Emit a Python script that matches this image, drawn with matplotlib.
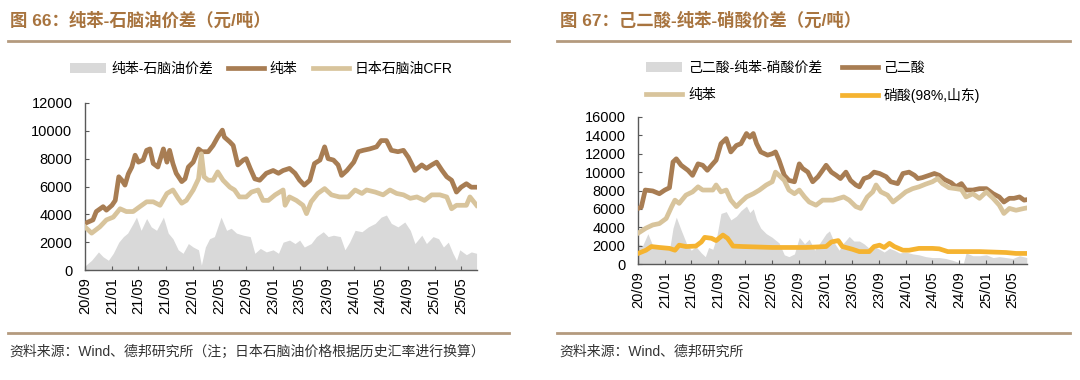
import matplotlib
matplotlib.use("Agg")
import matplotlib.pyplot as plt
import matplotlib.dates as mdates
from matplotlib.lines import Line2D
from matplotlib.patches import Patch
import pandas as pd

plt.rcParams['font.family'] = ['Liberation Sans', 'Noto Sans CJK SC', 'DejaVu Sans']

# ---------------- left chart: 纯苯-石脑油价差 (元/吨) ----------------
benzene_l = [
    ("2020-09-01", 3350), ("2020-10-07", 3600), ("2020-10-22", 4200), ("2020-11-22", 4550),
    ("2020-12-07", 4300), ("2021-01-01", 4650), ("2021-01-16", 5000), ("2021-02-01", 6700),
    ("2021-02-15", 6450), ("2021-03-01", 6100), ("2021-03-16", 6900), ("2021-04-01", 7400),
    ("2021-04-16", 8250), ("2021-05-01", 7750), ("2021-05-22", 7900), ("2021-06-07", 8600),
    ("2021-06-22", 8700), ("2021-07-07", 7650), ("2021-07-28", 7400), ("2021-08-22", 8700),
    ("2021-09-07", 7750), ("2021-09-19", 8600), ("2021-10-04", 7650), ("2021-10-19", 6950),
    ("2021-11-13", 6350), ("2021-11-28", 6550), ("2021-12-13", 7400), ("2022-01-04", 7750),
    ("2022-01-28", 8700), ("2022-02-13", 8500), ("2022-03-13", 8500), ("2022-04-04", 8950),
    ("2022-04-25", 9550), ("2022-05-16", 10050), ("2022-05-25", 9550), ("2022-06-19", 9200),
    ("2022-07-04", 8950), ("2022-07-25", 7550), ("2022-08-19", 7900), ("2022-09-01", 8000),
    ("2022-09-19", 7300), ("2022-10-10", 6550), ("2022-11-01", 6450), ("2022-12-01", 6950),
    ("2023-01-01", 7150), ("2023-01-25", 6950), ("2023-02-15", 7150), ("2023-03-16", 7300),
    ("2023-04-10", 6950), ("2023-05-01", 6450), ("2023-05-22", 6100), ("2023-06-16", 6450),
    ("2023-07-07", 7650), ("2023-08-01", 7900), ("2023-08-22", 8850), ("2023-09-07", 8000),
    ("2023-10-01", 7900), ("2023-10-22", 7550), ("2023-11-07", 6800), ("2023-12-01", 7150),
    ("2024-01-01", 7750), ("2024-01-22", 8500), ("2024-02-13", 8600), ("2024-03-13", 8700),
    ("2024-04-13", 8850), ("2024-05-04", 9300), ("2024-05-28", 9300), ("2024-06-19", 8600),
    ("2024-07-19", 8500), ("2024-08-13", 8600), ("2024-09-04", 8100), ("2024-10-04", 7150),
    ("2024-11-04", 7550), ("2024-11-25", 7300), ("2024-12-19", 7550), ("2025-01-10", 7750),
    ("2025-02-04", 7150), ("2025-02-25", 6700), ("2025-03-19", 6450), ("2025-04-10", 5600),
    ("2025-05-01", 5950), ("2025-05-25", 6200), ("2025-06-16", 5950), ("2025-07-10", 5950),
]

naphtha = [
    ("2020-09-01", 3100), ("2020-10-01", 2650), ("2020-11-07", 3100), ("2020-12-07", 3600),
    ("2021-01-07", 3800), ("2021-02-07", 4400), ("2021-03-07", 4200), ("2021-04-07", 4200),
    ("2021-05-07", 4550), ("2021-06-07", 4900), ("2021-07-07", 4900), ("2021-08-07", 4650),
    ("2021-09-07", 5500), ("2021-10-04", 5750), ("2021-10-28", 5150), ("2021-11-13", 4800),
    ("2021-12-04", 5000), ("2022-01-04", 5750), ("2022-01-28", 6550), ("2022-02-10", 8350),
    ("2022-02-22", 6700), ("2022-03-13", 6450), ("2022-04-04", 6450), ("2022-04-25", 7050),
    ("2022-05-19", 6450), ("2022-06-19", 5950), ("2022-07-10", 5750), ("2022-08-01", 5250),
    ("2022-09-01", 5250), ("2022-09-25", 5600), ("2022-10-25", 5750), ("2022-11-16", 5000),
    ("2022-12-10", 5000), ("2023-01-10", 5400), ("2023-02-15", 5750), ("2023-02-24", 4650),
    ("2023-03-16", 5250), ("2023-04-16", 5000), ("2023-05-16", 4650), ("2023-06-01", 4050),
    ("2023-06-22", 4900), ("2023-07-22", 5500), ("2023-08-22", 5850), ("2023-09-22", 5400),
    ("2023-10-28", 5250), ("2023-12-07", 5250), ("2024-01-07", 5750), ("2024-02-07", 5500),
    ("2024-02-28", 5750), ("2024-04-07", 5600), ("2024-05-13", 5400), ("2024-06-13", 5750),
    ("2024-07-13", 5500), ("2024-08-13", 5400), ("2024-09-13", 5150), ("2024-10-13", 5250),
    ("2024-11-16", 5000), ("2024-12-19", 5400), ("2025-01-25", 5400), ("2025-02-25", 5250),
    ("2025-03-19", 4400), ("2025-04-10", 4650), ("2025-05-01", 4650), ("2025-05-25", 4650),
    ("2025-06-10", 5250), ("2025-07-10", 4650),
]

spread_l = [
    ("2020-09-01", 300), ("2020-10-01", 700), ("2020-11-01", 1300), ("2020-11-22", 950),
    ("2020-12-16", 700), ("2021-01-07", 1200), ("2021-02-01", 2000), ("2021-02-22", 2400),
    ("2021-03-13", 2650), ("2021-04-07", 3350), ("2021-04-22", 3800), ("2021-05-13", 2850),
    ("2021-06-07", 3700), ("2021-06-28", 3100), ("2021-07-22", 2850), ("2021-08-22", 3800),
    ("2021-09-13", 2650), ("2021-10-04", 2250), ("2021-10-28", 1450), ("2021-11-19", 1200),
    ("2021-12-13", 1900), ("2022-01-04", 1650), ("2022-01-28", 1450), ("2022-02-10", 350),
    ("2022-02-28", 1650), ("2022-03-19", 2250), ("2022-04-10", 2400), ("2022-05-10", 3800),
    ("2022-06-04", 2850), ("2022-06-25", 3000), ("2022-07-19", 2650), ("2022-08-19", 2500),
    ("2022-09-19", 2400), ("2022-10-10", 1200), ("2022-11-04", 1550), ("2022-12-01", 1300),
    ("2023-01-01", 1450), ("2023-01-25", 1200), ("2023-02-15", 2000), ("2023-03-16", 2150),
    ("2023-04-10", 1900), ("2023-05-01", 2150), ("2023-05-22", 1650), ("2023-06-22", 1900),
    ("2023-07-16", 2400), ("2023-08-16", 2750), ("2023-09-07", 2400), ("2023-10-01", 2500),
    ("2023-11-01", 2400), ("2023-11-22", 1450), ("2023-12-13", 2000), ("2024-01-07", 2850),
    ("2024-02-07", 2750), ("2024-03-07", 3100), ("2024-04-07", 3350), ("2024-05-04", 3800),
    ("2024-05-28", 3950), ("2024-06-19", 3350), ("2024-07-19", 3100), ("2024-08-19", 3450),
    ("2024-09-13", 2850), ("2024-10-04", 1900), ("2024-11-04", 2500), ("2024-11-25", 1900),
    ("2024-12-25", 2400), ("2025-01-19", 2250), ("2025-02-10", 1650), ("2025-03-04", 2000),
    ("2025-03-25", 1200), ("2025-04-10", 700), ("2025-04-25", 1450), ("2025-05-25", 1100),
    ("2025-06-16", 1300), ("2025-07-10", 1200),
]

# ---------------- right chart: 己二酸-纯苯-硝酸价差 (元/吨) ----------------
adipic = [
    ("2020-09-01", 6050), ("2020-09-16", 6200), ("2020-10-04", 8050), ("2020-11-07", 7950),
    ("2020-12-07", 7650), ("2021-01-01", 8050), ("2021-01-22", 8300), ("2021-02-07", 11100),
    ("2021-02-22", 11450), ("2021-03-16", 10750), ("2021-04-16", 10200), ("2021-05-07", 9650),
    ("2021-06-01", 10900), ("2021-06-22", 10750), ("2021-07-13", 10200), ("2021-08-07", 10900),
    ("2021-08-22", 11300), ("2021-09-13", 13100), ("2021-10-07", 13650), ("2021-10-28", 12200),
    ("2021-11-22", 12900), ("2021-12-13", 13100), ("2022-01-07", 14200), ("2022-01-22", 13800),
    ("2022-02-07", 14200), ("2022-02-22", 13100), ("2022-03-13", 12200), ("2022-04-13", 11850),
    ("2022-05-04", 12000), ("2022-05-19", 12200), ("2022-06-04", 11300), ("2022-06-28", 9650),
    ("2022-07-19", 9100), ("2022-08-13", 8950), ("2022-09-04", 10900), ("2022-09-19", 10400),
    ("2022-10-13", 10000), ("2022-11-04", 8950), ("2022-11-28", 9500), ("2022-12-19", 10200),
    ("2023-01-04", 10750), ("2023-01-28", 10000), ("2023-02-19", 9650), ("2023-03-10", 9300),
    ("2023-04-04", 10000), ("2023-04-25", 9100), ("2023-05-19", 8600), ("2023-06-04", 8400),
    ("2023-06-25", 9300), ("2023-07-19", 9500), ("2023-08-10", 10000), ("2023-09-04", 9850),
    ("2023-10-04", 9500), ("2023-10-25", 8950), ("2023-11-25", 8750), ("2023-12-19", 9850),
    ("2024-01-16", 10000), ("2024-02-10", 9650), ("2024-02-25", 9300), ("2024-03-16", 9400),
    ("2024-04-16", 9650), ("2024-05-10", 9850), ("2024-06-01", 9650), ("2024-06-25", 9200),
    ("2024-07-25", 8850), ("2024-08-16", 8400), ("2024-09-10", 8750), ("2024-10-01", 8050),
    ("2024-11-01", 8050), ("2024-12-01", 8200), ("2025-01-01", 8200), ("2025-02-01", 7650),
    ("2025-03-01", 7300), ("2025-03-22", 6750), ("2025-04-16", 7150), ("2025-05-07", 7150),
    ("2025-06-01", 7300), ("2025-06-22", 6950), ("2025-07-04", 7000),
]

benzene_r = [
    ("2020-09-01", 3350), ("2020-10-07", 3900), ("2020-11-07", 4250), ("2020-12-07", 4400),
    ("2021-01-07", 4950), ("2021-02-01", 6250), ("2021-02-16", 6950), ("2021-03-07", 6600),
    ("2021-04-07", 7500), ("2021-05-07", 7850), ("2021-06-01", 8400), ("2021-06-22", 8050),
    ("2021-07-13", 8050), ("2021-08-07", 8050), ("2021-08-22", 8600), ("2021-09-13", 7850),
    ("2021-10-07", 8050), ("2021-10-28", 6950), ("2021-11-22", 6250), ("2021-12-13", 6750),
    ("2022-01-07", 7300), ("2022-02-07", 7650), ("2022-03-07", 8050), ("2022-04-07", 8600),
    ("2022-05-04", 8950), ("2022-05-19", 10000), ("2022-06-04", 9650), ("2022-06-28", 9100),
    ("2022-07-19", 8050), ("2022-08-13", 7650), ("2022-09-04", 8050), ("2022-09-28", 7300),
    ("2022-10-19", 6750), ("2022-11-19", 6400), ("2022-12-19", 6950), ("2023-01-13", 6950),
    ("2023-02-04", 6950), ("2023-03-04", 7150), ("2023-03-25", 7300), ("2023-04-19", 6950),
    ("2023-05-19", 6250), ("2023-06-10", 6050), ("2023-07-10", 7300), ("2023-08-04", 7850),
    ("2023-08-19", 8600), ("2023-09-10", 7850), ("2023-10-10", 7500), ("2023-11-04", 6750),
    ("2023-12-04", 7300), ("2024-01-01", 7850), ("2024-02-01", 8200), ("2024-03-01", 8400),
    ("2024-04-01", 8700), ("2024-05-01", 8950), ("2024-05-25", 9300), ("2024-06-16", 8750),
    ("2024-07-16", 8300), ("2024-08-16", 8200), ("2024-09-10", 8100), ("2024-10-01", 7300),
    ("2024-11-01", 7650), ("2024-12-01", 7150), ("2025-01-01", 7850), ("2025-02-01", 7150),
    ("2025-03-01", 6400), ("2025-03-22", 5500), ("2025-04-16", 6050), ("2025-05-16", 5850),
    ("2025-06-22", 6050), ("2025-07-04", 6100),
]

nitric = [
    ("2020-09-01", 1150), ("2020-10-07", 1500), ("2020-11-01", 1900), ("2020-12-07", 1800),
    ("2021-01-22", 1700), ("2021-02-16", 1500), ("2021-03-07", 2050), ("2021-04-07", 1900),
    ("2021-05-22", 1950), ("2021-06-16", 2400), ("2021-07-01", 2900), ("2021-08-01", 2800),
    ("2021-08-22", 2550), ("2021-09-22", 3150), ("2021-10-13", 2800), ("2021-11-07", 1950),
    ("2021-12-22", 1900), ("2022-05-04", 1800), ("2022-10-04", 1800), ("2023-01-04", 1900),
    ("2023-01-28", 2400), ("2023-02-28", 2550), ("2023-03-19", 1900), ("2023-05-04", 1600),
    ("2023-06-04", 1350), ("2023-07-19", 1350), ("2023-08-10", 1900), ("2023-09-04", 2050),
    ("2023-09-25", 1800), ("2023-10-19", 2250), ("2023-11-10", 1900), ("2023-12-19", 1500),
    ("2024-01-16", 1500), ("2024-03-01", 1700), ("2024-05-01", 1700), ("2024-06-01", 1650),
    ("2024-07-10", 1350), ("2024-09-19", 1350), ("2024-12-01", 1350), ("2025-04-01", 1250),
    ("2025-05-16", 1150), ("2025-07-04", 1150),
]

spread_r = [
    ("2020-09-01", 2200), ("2020-09-22", 2000), ("2020-10-16", 3300), ("2020-11-07", 2000),
    ("2020-12-01", 1700), ("2021-01-01", 1950), ("2021-01-22", 1500), ("2021-02-07", 3900),
    ("2021-02-22", 5100), ("2021-03-16", 3700), ("2021-04-10", 2200), ("2021-05-01", 1500),
    ("2021-05-22", 1900), ("2021-06-16", 1200), ("2021-07-04", 800), ("2021-07-19", 1800),
    ("2021-08-07", 1600), ("2021-08-25", 3000), ("2021-09-13", 5500), ("2021-10-07", 5700),
    ("2021-10-28", 4800), ("2021-11-22", 5200), ("2021-12-13", 5800), ("2022-01-07", 6300),
    ("2022-01-22", 5600), ("2022-02-07", 6000), ("2022-02-22", 4800), ("2022-03-13", 3900),
    ("2022-04-07", 3300), ("2022-05-04", 2900), ("2022-05-19", 2600), ("2022-06-04", 2300),
    ("2022-06-28", 1000), ("2022-07-19", 800), ("2022-08-13", 1100), ("2022-09-04", 2900),
    ("2022-09-28", 2200), ("2022-10-19", 2700), ("2022-11-13", 1500), ("2022-12-07", 2300),
    ("2023-01-04", 3300), ("2023-01-19", 3600), ("2023-02-13", 2200), ("2023-03-04", 1500),
    ("2023-03-25", 2300), ("2023-04-19", 3000), ("2023-05-10", 2500), ("2023-06-04", 2500),
    ("2023-06-25", 2200), ("2023-07-19", 1700), ("2023-08-10", 1900), ("2023-09-04", 1600),
    ("2023-09-25", 1300), ("2023-10-19", 1700), ("2023-11-10", 1500), ("2023-12-04", 1200),
    ("2024-01-01", 1300), ("2024-02-01", 1100), ("2024-03-01", 1000), ("2024-04-01", 800),
    ("2024-05-01", 700), ("2024-06-01", 700), ("2024-07-01", 600), ("2024-08-01", 400),
    ("2024-09-01", 150), ("2024-09-19", 100), ("2024-10-01", 1200), ("2024-11-01", 900),
    ("2024-12-01", 900), ("2025-01-01", 1000), ("2025-02-01", 700), ("2025-03-01", 800),
    ("2025-04-01", 700), ("2025-05-01", 600), ("2025-06-01", 900), ("2025-07-04", 700),
]

tick_dates = pd.date_range("2020-09-01", "2025-05-01", freq="4MS")

C_BROWN = "#A87D53"
C_TAN = "#D8C49C"
C_GRAY = "#D9D9D9"
C_ORANGE = "#F5B330"
C_TITLE = "#A8743F"
C_RULE = "#B49A7E"


def unzip(series):
    d = pd.to_datetime([s[0] for s in series])
    v = [s[1] for s in series]
    return d, v


def style_axes(ax, ymax, xmax):
    ax.set_xlim(pd.Timestamp("2020-09-01"), pd.Timestamp(xmax))
    ax.set_ylim(0, ymax)
    ax.set_yticks(range(0, ymax + 1, 2000))
    ax.set_xticks(tick_dates)
    ax.xaxis.set_major_formatter(mdates.DateFormatter("%y/%m"))
    for s in ["top", "right"]:
        ax.spines[s].set_visible(False)
    for s in ["left", "bottom"]:
        ax.spines[s].set_color("#595959")
        ax.spines[s].set_linewidth(1.0)
    ax.tick_params(axis="y", direction="in", length=3, color="#595959",
                   labelsize=10.5, pad=9)
    ax.tick_params(axis="x", direction="in", length=3, color="#595959",
                   labelsize=10.5, pad=5, labelrotation=90)


fig = plt.figure(figsize=(10.8, 3.8), dpi=100)

# left panel
ax1 = fig.add_axes([85 / 1080, 1 - 270 / 380, 392 / 1080, 167 / 380])
d, v = unzip(spread_l)
ax1.fill_between(d, 0, v, color=C_GRAY, lw=0, zorder=1)
d, v = unzip(benzene_l)
ax1.plot(d, v, color=C_BROWN, lw=3.4, zorder=3)
d, v = unzip(naphtha)
ax1.plot(d, v, color=C_TAN, lw=3.4, zorder=3)
style_axes(ax1, 12000, "2025-07-12")

# right panel
ax2 = fig.add_axes([638 / 1080, 1 - 264 / 380, 389 / 1080, 147 / 380])
d, v = unzip(spread_r)
ax2.fill_between(d, 0, v, color=C_GRAY, lw=0, zorder=1)
d, v = unzip(adipic)
ax2.plot(d, v, color=C_BROWN, lw=3.4, zorder=3)
d, v = unzip(benzene_r)
ax2.plot(d, v, color=C_TAN, lw=3.4, zorder=3)
d, v = unzip(nitric)
ax2.plot(d, v, color=C_ORANGE, lw=3.4, zorder=3)
style_axes(ax2, 16000, "2025-07-05")

# titles and rules
fig.text(10 / 1080, 1 - 20 / 380, "图 66：纯苯-石脑油价差（元/吨）", fontsize=12.5,
         fontweight="bold", color=C_TITLE, ha="left", va="center")
fig.text(560 / 1080, 1 - 20 / 380, "图 67：己二酸-纯苯-硝酸价差（元/吨）", fontsize=12.5,
         fontweight="bold", color=C_TITLE, ha="left", va="center")
for x0, x1 in [(8, 509), (557, 1070)]:
    for y in (41, 333):
        fig.add_artist(Line2D([x0 / 1080, x1 / 1080], [1 - y / 380, 1 - y / 380],
                              color=C_RULE, lw=2.0, transform=fig.transFigure))

fig.text(9 / 1080, 1 - 352 / 380, "资料来源：Wind、德邦研究所（注；日本石脑油价格根据历史汇率进行换算）",
         fontsize=10, color="#333333", ha="left", va="center")
fig.text(559 / 1080, 1 - 352 / 380, "资料来源：Wind、德邦研究所",
         fontsize=10, color="#333333", ha="left", va="center")

# legends
h_gray = Patch(facecolor=C_GRAY, edgecolor="none")
h_brown = Line2D([], [], color=C_BROWN, lw=3.4)
h_tan = Line2D([], [], color=C_TAN, lw=3.4)
h_orange = Line2D([], [], color=C_ORANGE, lw=3.4)

fig.legend([h_gray, h_brown, h_tan], ["纯苯-石脑油价差", "纯苯", "日本石脑油CFR"],
           loc="center", bbox_to_anchor=(261 / 1080, 1 - 69 / 380), ncol=3,
           frameon=False, fontsize=10, handlelength=2.6, handletextpad=0.4,
           columnspacing=1.1, borderpad=0)
fig.legend([h_gray, h_tan, h_brown, h_orange],
           ["己二酸-纯苯-硝酸价差", "纯苯", "己二酸", "硝酸(98%,山东)"],
           loc="center", bbox_to_anchor=(813 / 1080, 1 - 82 / 380), ncol=2,
           frameon=False, fontsize=10, handlelength=2.6, handletextpad=0.4,
           columnspacing=1.4, labelspacing=0.95, borderpad=0)

fig.savefig("out.png", dpi=100)
